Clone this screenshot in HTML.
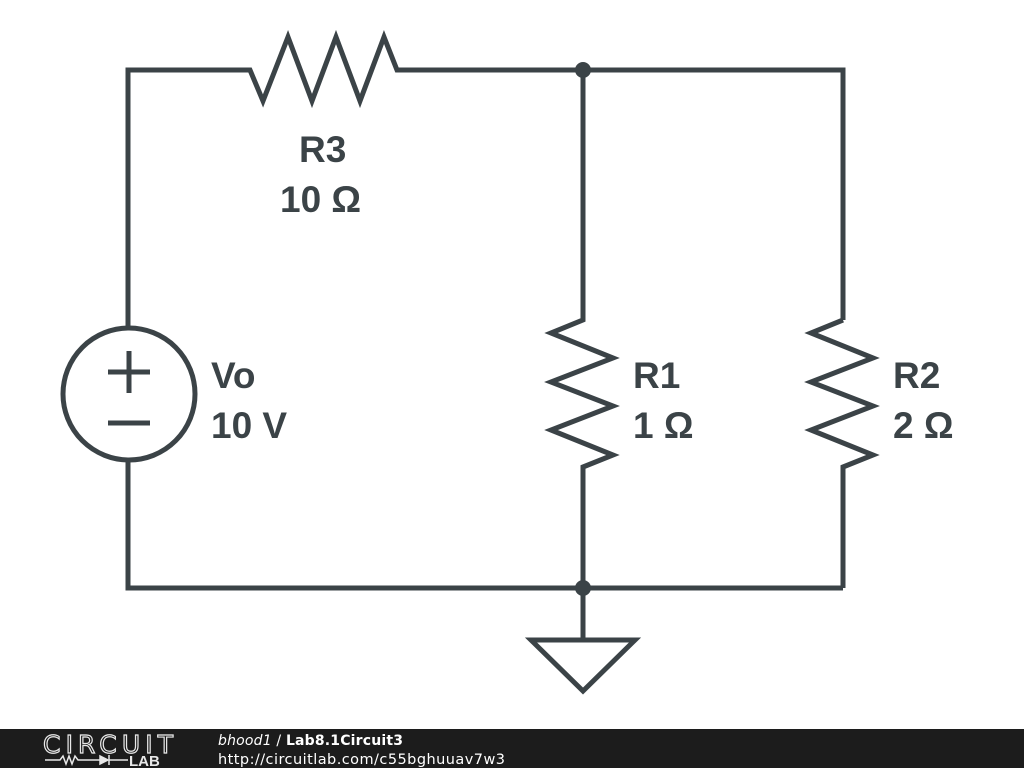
<!DOCTYPE html>
<html><head><meta charset="utf-8"><style>
html,body{margin:0;padding:0;background:#fff;width:1024px;height:768px;overflow:hidden}
svg{display:block}
</style></head><body>
<svg width="1024" height="768" viewBox="0 0 1024 768" xmlns="http://www.w3.org/2000/svg">
<g fill="none" stroke="#3b4347" stroke-width="5" stroke-linejoin="miter" stroke-linecap="butt">
<polyline points="128,327 128,70 250,70 263,101 288,37 312,101 336,37 360,101 384,37 397,70 843,70 843,320"/>
<polyline points="583,70 583,320 551,333 613,358 551,382 613,406 551,430 613,455 583,467 583,588"/>
<polyline points="843,320 811,333 873,358 811,382 873,406 811,430 873,455 843,467 843,588"/>
<polyline points="128,460 128,588 843,588"/>
<line x1="583" y1="588" x2="583" y2="640"/>
<polygon points="531,640 635,640 583,691"/>
<circle cx="129" cy="394" r="66"/>
<line x1="108" y1="372" x2="150" y2="372"/>
<line x1="129" y1="351" x2="129" y2="393"/>
<line x1="108" y1="423" x2="150" y2="423"/>
</g>
<circle cx="583" cy="70" r="8" fill="#3b4347"/>
<circle cx="583" cy="588" r="8" fill="#3b4347"/>
<g font-family="Liberation Sans, sans-serif" font-weight="bold" font-size="37" fill="#3b4347">
<text x="299" y="162">R3</text>
<text x="280" y="212">10 Ω</text>
<text x="211" y="388">Vo</text>
<text x="211" y="438">10 V</text>
<text x="633" y="388">R1</text>
<text x="633" y="438">1 Ω</text>
<text x="893" y="388">R2</text>
<text x="893" y="438">2 Ω</text>
</g>
<rect x="0" y="729" width="1024" height="39" fill="#1c1c1c"/>
<text x="43" y="753" font-family="DejaVu Sans, sans-serif" font-size="25" font-weight="normal" fill="none" stroke="#e8e8e8" stroke-width="1.2" textLength="130">CIRCUIT</text>
<g stroke="#e8e8e8" stroke-width="1.5" fill="none">
<polyline points="45,760 60,760 63,756 66,764 69,756 72,764 75,756 78,760 100,760"/>
<polygon points="100,756 100,764 108,760" fill="#e8e8e8"/>
<line x1="109" y1="755" x2="109" y2="765"/>
<line x1="109" y1="760" x2="128" y2="760"/>
</g>
<text x="129" y="766" font-family="Liberation Sans, sans-serif" font-weight="bold" font-size="15" fill="#e8e8e8">LAB</text>
<text x="218" y="745" font-family="DejaVu Sans, sans-serif" font-size="14" fill="#fff" textLength="185"><tspan font-style="italic">bhood1</tspan> / <tspan font-weight="bold">Lab8.1Circuit3</tspan></text>
<text x="218" y="764" font-family="DejaVu Sans, sans-serif" font-size="14.5" fill="#fff" textLength="287">http://circuitlab.com/c55bghuuav7w3</text>
</svg>
</body></html>
